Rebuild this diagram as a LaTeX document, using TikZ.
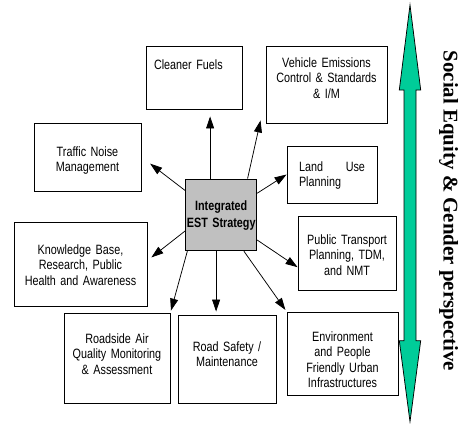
\documentclass[tikz,border=0pt]{standalone}
\usepackage{fontspec}
\setmainfont{Liberation Sans}[FakeStretch=0.8]
\newfontfamily\sidefont{Liberation Serif}
\usepackage{tikz}
\usetikzlibrary{arrows.meta}
\definecolor{coregray}{RGB}{192,192,192}
\definecolor{equitygreen}{RGB}{0,204,153}
\tikzset{>={Triangle[length=12pt,width=8pt]}}
\tikzset{
	box/.style={draw, line width=0.9pt, inner ysep=0pt, inner xsep=4pt, align=center,
		font=\fontsize{13.5}{15.5}\selectfont},
	core/.style={box, fill=coregray, inner xsep=0pt, font=\fontsize{13.5}{17}\selectfont\bfseries},
	link/.style={->, line width=0.75pt},
}

\begin{document}
\begin{tikzpicture}[x=1pt, y=-1pt]
	\useasboundingbox (0,0) rectangle (460,423);

	% strategy in the middle
	\node[core, text width=71pt, text height=31pt, text depth=40.7pt] (est) at (221.2,214.85) {Integrated\\EST Strategy};

	% measures around it
	\node[box, text width=80pt, inner xsep=8pt, align=left, text height=23pt, text depth=40pt] (fuels) at (194,77.5) {Cleaner Fuels};
	\node[box, text width=113pt, text height=21pt, text depth=56pt] (vehicle) at (326.5,84.5) {Vehicle Emissions\\Control \& Standards\\\& I/M};
	\node[box, text width=66pt, inner xsep=12pt, align=left, text height=25pt, text depth=32pt] (land) at (332,174.5) {Land\hfill Use\\Planning};
	\node[box, text width=99pt, text height=33pt, text depth=35pt] (noise) at (87.5,157) {Traffic Noise\\Management};
	\node[box, text width=125pt, text height=32pt, text depth=52pt] (knowledge) at (80.5,264) {Knowledge Base,\\Research, Public\\Health and Awareness};
	\node[box, text width=90pt, text height=28pt, text depth=46pt] (public) at (347,253) {Public Transport\\Planning, TDM,\\and NMT};
	\node[box, text width=98pt, text height=30pt, text depth=60pt] (roadside) at (117,358) {Roadside Air\\Quality Monitoring\\\& Assessment};
	\node[box, text width=90pt, text height=36pt, text depth=52pt] (safety) at (227,359) {Road Safety /\\Maintenance};
	\node[box, text width=103pt, text height=29pt, text depth=54pt] (env) at (342.5,353.5) {Environment\\and People\\Friendly Urban\\Infrastructures};

	\draw[link, shorten >=7pt] (est.107) to (est.107 |- fuels.south);
	\draw[link] (est.54) to ([xshift=-5pt,yshift=3pt]vehicle.south west);
	\draw[link] (est.31) to (land.west);
	\draw[link, shorten >=11pt] (est.146) to (noise.east);
	\draw[link, shorten >=5pt] (est.204) to (knowledge.3);
	\draw[link, shorten >=2pt] (est.227) to (roadside.north east);
	\draw[link, shorten >=3pt] (est.262) to (est.262 |- safety.north);
	\draw[link, shorten >=2pt] (est.302) to (env.north west);
	\draw[link] (est.325) to (public.196);

	% two-headed bar on the right
	\draw[fill=equitygreen, line width=0.75pt] (410,5) -- (420.7,90) -- (416,90) -- (416,340.7)
		-- (420.7,340.7) -- (410,421.7) -- (399.3,340.7) -- (404,340.7) -- (404,90) -- (399.3,90) -- cycle;
	\node[rotate=-90, anchor=base, inner sep=0pt, font={\sidefont\bfseries\fontsize{20.9}{24}\selectfont}] (equity) at (443.5,211) {Social Equity \& Gender perspective};
\end{tikzpicture}
\end{document}
